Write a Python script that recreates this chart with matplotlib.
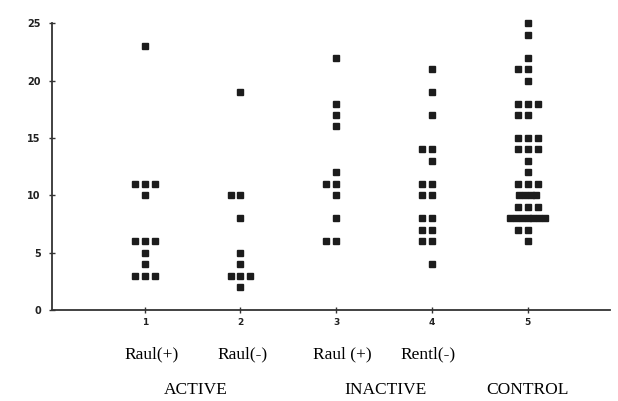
import numpy as np
import matplotlib
matplotlib.use("Agg")
import matplotlib.pyplot as plt

# values per group (one entry per dot)
group_ids = [1, 2, 3, 4, 5]
g1 = [23, 11, 11, 11, 10, 6, 6, 6, 5, 4, 3, 3, 3]
g2 = [19, 10, 10, 8, 5, 4, 3, 3, 3, 2]
g3 = [22, 18, 17, 16, 12, 11, 11, 10, 8, 6, 6]
g4 = [21, 19, 17, 14, 14, 13, 11, 11, 10, 10, 8, 8, 7, 7, 6, 6, 4]
g5 = [25, 24, 22, 21, 21, 20, 18, 18, 18, 17, 17, 15, 15, 15, 14, 14, 14,
      13, 12, 11, 11, 11, 10, 10, 10, 10, 9, 9, 9,
      8, 8, 8, 8, 8, 8, 8, 7, 7, 6]
groups = [g1, g2, g3, g4, g5]

sub_labels = ["Raul(+)", "Raul(-)", "Raul (+)", "Rentl(-)"]
main_labels = ["ACTIVE", "INACTIVE", "CONTROL"]
yticks = [0, 5, 10, 15, 20, 25]

fig = plt.figure(figsize=(6.18, 4.01), dpi=100)
ax = fig.add_axes([0.084, 0.227, 0.903, 0.715])

dot = "#1c1c1c"
for gx, vals in zip(group_ids, groups):
    vals = np.array(vals)
    for v in np.unique(vals):
        n = int((vals == v).sum())
        if n == 1:
            offs = np.array([0.0])
        elif n <= 3:
            # side by side, starting one step to the left of the tick
            offs = (np.arange(n) - 1) * 0.104
        else:
            # crowded rows merge into a bar
            offs = (np.arange(n) - (n - 1) / 2) * 0.06
        ax.plot(gx + offs, [v] * n, ls="none", marker="s", ms=4.4,
                color=dot, mec=dot, clip_on=False)

ax.set_xlim(0.03, 5.86)
ax.set_ylim(0, 25)
for s in ["top", "right"]:
    ax.spines[s].set_visible(False)
for s in ["left", "bottom"]:
    ax.spines[s].set_color("#333333")
    ax.spines[s].set_linewidth(1.3)

ax.set_yticks(yticks)
ax.set_xticks(group_ids)
ax.tick_params(axis="both", direction="inout", length=4, width=1, colors="#333333")
ax.tick_params(axis="y", labelsize=7, pad=6)
ax.tick_params(axis="x", labelsize=6.5, pad=4)
for lab in ax.get_xticklabels() + ax.get_yticklabels():
    lab.set_fontweight("bold")
    lab.set_color("#222222")

W, H = 618, 401
sub_x = [152, 243, 342, 428]
for x, t in zip(sub_x, sub_labels):
    fig.text(x / W, 1 - 354 / H, t, ha="center", va="center",
             family="Liberation Serif", fontsize=12.5)
main_x = [196, 385, 527]
for x, t in zip(main_x, main_labels):
    fig.text(x / W, 1 - 390 / H, t, ha="center", va="center",
             family="Liberation Serif", fontsize=12.5)

plt.savefig("out.png", dpi=100)
